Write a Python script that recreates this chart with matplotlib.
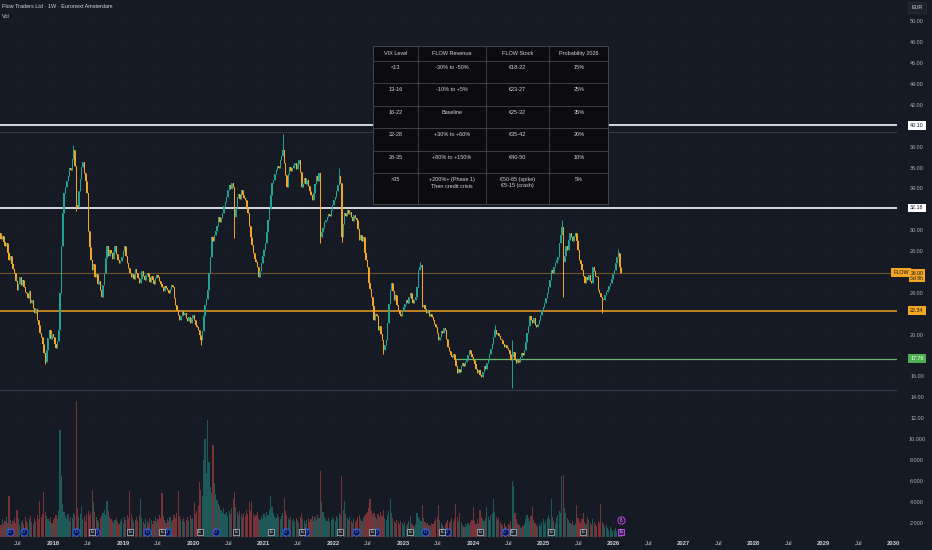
import matplotlib
matplotlib.use("Agg")
import matplotlib.pyplot as plt
import matplotlib.dates as mdates
from matplotlib import font_manager
from matplotlib.patches import Rectangle
from matplotlib.transforms import blended_transform_factory
import numpy as np
import pandas as pd

# ---- data -------------------------------------------------------------------
title_text = "Flow Traders Ltd · 1W · Euronext Amsterdam"
first_week = "2017-03-27"

closes = [
    29.8, 29.2, 29.5, 28.9, 28.5, 28.8, 27.9, 27.2, 27.6, 26.8,
    26.3, 26.0, 25.2, 24.3, 24.9, 25.6, 24.8, 25.3, 24.6, 24.1,
    24.0, 23.6, 24.2, 23.1, 23.4, 22.6, 22.1, 22.5, 21.5, 21.0,
    20.2, 19.8, 19.2, 18.3, 17.4, 18.6, 19.7, 20.5, 19.6, 20.1,
    19.8, 19.2, 18.8, 19.4, 20.5, 24.0, 28.5, 31.7, 33.6, 34.2,
    34.8, 35.2, 36.0, 35.8, 36.9, 37.7, 36.2, 32.5, 32.3, 33.8,
    35.0, 36.1, 36.6, 35.5, 34.8, 33.6, 30.0, 28.4, 27.2, 26.2,
    26.8, 25.6, 25.9, 24.9, 25.2, 24.3, 23.7, 24.8, 26.0, 27.4,
    28.5, 27.6, 28.2, 27.9, 27.3, 28.0, 28.5, 27.8, 27.2, 26.9,
    27.1, 27.5, 28.1, 28.5, 27.6, 26.9, 26.4, 26.0, 25.6, 25.9,
    25.4, 26.3, 26.0, 25.5, 25.0, 25.4, 26.1, 25.7, 25.3, 25.8,
    26.0, 25.6, 25.1, 25.7, 25.3, 24.9, 25.5, 25.8, 25.6, 25.2,
    24.9, 24.6, 24.2, 24.7, 24.5, 24.3, 24.0, 24.4, 24.8, 24.6,
    23.6, 22.9, 22.4, 21.9, 21.5, 21.8, 22.3, 21.9, 22.1, 21.6,
    21.4, 21.7, 21.2, 21.6, 21.9, 21.5, 21.0, 20.8, 20.5, 20.0,
    19.5, 20.4, 21.8, 22.9, 23.5, 24.3, 26.0, 27.5, 29.4, 29.0,
    29.6, 30.0, 30.5, 31.3, 30.8, 31.2, 31.7, 32.4, 32.8, 33.2,
    33.9, 34.4, 34.0, 34.6, 34.2, 31.3, 32.2, 33.2, 33.5, 33.0,
    33.9, 33.4, 33.1, 32.9, 32.2, 31.7, 30.5, 29.4, 28.6, 27.9,
    27.3, 27.0, 26.5, 25.6, 26.1, 26.9, 27.6, 28.2, 28.8, 29.9,
    31.0, 32.1, 33.4, 34.6, 34.9, 35.4, 35.8, 36.2, 36.0, 36.8,
    37.2, 37.7, 36.5, 35.3, 34.2, 35.4, 36.1, 35.7, 36.0, 36.3,
    36.5, 35.9, 36.4, 36.8, 35.6, 34.2, 34.6, 35.1, 34.5, 34.9,
    34.3, 33.8, 33.4, 32.9, 33.6, 34.5, 35.2, 34.8, 35.5, 29.4,
    29.9, 30.3, 30.8, 31.0, 31.3, 31.6, 31.4, 32.0, 32.5, 32.9,
    33.2, 33.8, 34.4, 35.2, 34.6, 29.4, 30.6, 31.7, 31.4, 32.0,
    31.6, 31.8, 31.3, 30.9, 31.5, 31.2, 31.0, 30.2, 29.1, 29.6,
    29.0, 29.4, 27.9, 27.2, 26.5, 25.0, 24.4, 23.7, 22.8, 21.5,
    22.0, 21.8, 20.5, 20.9, 20.1, 19.5, 18.6, 19.1, 19.5, 21.2,
    23.0, 24.3, 25.0, 24.2, 23.4, 23.8, 22.9, 22.4, 22.0, 21.8,
    22.3, 22.7, 23.0, 23.4, 23.1, 23.7, 24.0, 23.5, 23.1, 23.4,
    23.7, 24.6, 26.2, 26.5, 26.7, 22.7, 22.9, 22.5, 22.1, 22.4,
    21.8, 22.0, 21.7, 21.5, 21.1, 20.8, 20.2, 19.5, 19.8, 20.4,
    20.2, 20.7, 20.5, 19.6, 18.9, 18.5, 18.1, 17.9, 18.2, 17.6,
    17.0, 16.4, 16.8, 16.5, 17.0, 17.3, 17.0, 17.4, 17.6, 18.1,
    18.6, 18.2, 17.9, 17.6, 17.2, 16.8, 16.4, 16.7, 16.2, 16.0,
    16.5, 17.0, 16.8, 17.3, 17.6, 18.2, 18.7, 19.2, 19.8, 20.5,
    20.1, 20.2, 19.9, 19.6, 19.5, 19.2, 18.9, 19.1, 18.8, 18.6,
    18.2, 17.6, 17.9, 18.4, 17.6, 17.3, 17.6, 17.4, 17.9, 18.3,
    18.1, 18.6, 19.3, 20.2, 20.9, 21.8, 21.5, 21.2, 21.6, 21.0,
    20.8, 21.1, 21.5, 21.9, 22.4, 22.7, 23.1, 23.6, 24.0, 24.6,
    25.3, 26.2, 26.0, 26.5, 26.9, 27.2, 27.5, 28.8, 29.6, 30.4,
    27.0, 27.6, 28.5, 28.2, 29.1, 29.8, 29.4, 29.0, 29.5, 29.8,
    29.0, 28.2, 27.2, 26.8, 26.2, 25.7, 25.0, 25.6, 25.3, 25.8,
    25.2, 25.0, 26.5, 26.1, 25.7, 25.6, 24.3, 24.0, 23.7, 23.4,
    23.4, 23.8, 24.1, 24.3, 24.7, 25.0, 25.4, 25.9, 26.2, 26.9,
    27.5, 27.9, 26.5, 26.0,
]

# weekly volume, thousands
volumes = [
    2.1, 1.8, 2.4, 1.9, 2.2, 2.6, 2.0, 4.6, 2.3, 1.9,
    2.2, 2.5, 2.0, 3.3, 2.4, 1.8, 2.1, 2.3, 1.9, 2.6,
    2.2, 2.0, 2.4, 2.7, 2.1, 1.9, 2.5, 2.2, 2.8, 2.4,
    4.1, 2.6, 2.9, 5.0, 3.1, 2.7, 2.4, 2.2, 2.6, 2.0,
    2.3, 2.5, 2.8, 2.4, 3.2, 10.9, 6.5, 3.8, 3.1, 2.7,
    2.4, 2.9, 2.2, 2.6, 2.5, 3.0, 2.8, 13.7, 3.4, 2.6,
    2.9, 3.6, 2.4, 2.7, 2.2, 2.9, 3.2, 2.8, 3.0, 5.2,
    4.0, 3.1, 2.6, 2.3, 2.1, 2.5, 2.7, 3.0, 3.3, 2.8,
    4.1, 3.2, 2.6, 2.4, 2.2, 2.0, 2.3, 2.5, 2.1, 1.9,
    2.2, 2.4, 2.0, 2.6, 2.3, 2.8, 2.5, 5.1, 2.9, 2.4,
    2.1, 2.3, 2.6, 2.2, 2.8, 4.3, 2.5, 2.1, 1.9, 2.4,
    2.2, 2.0, 2.5, 2.3, 1.9, 2.2, 2.6, 2.1, 2.4, 2.8,
    2.5, 4.9, 2.7, 2.3, 2.0, 2.4, 2.2, 2.6, 2.1, 2.3,
    2.8, 2.5, 3.0, 5.1, 2.7, 2.4, 2.2, 2.5, 2.1, 2.3,
    2.6, 2.2, 2.8, 2.4, 2.5, 4.0, 2.9, 3.2, 3.6, 5.9,
    5.2, 4.6, 8.0, 10.1, 6.8, 11.9, 7.9, 5.5, 4.9, 9.5,
    5.8, 4.8, 4.2, 3.8, 3.6, 3.3, 3.0, 3.4, 2.9, 3.1,
    2.7, 3.2, 2.9, 3.4, 4.3, 5.0, 3.5, 3.1, 2.8, 3.2,
    2.9, 2.6, 3.0, 2.7, 3.3, 2.9, 4.0, 3.2, 4.1, 3.0,
    2.6, 2.8, 3.1, 2.5, 2.3, 2.7, 2.4, 2.9, 2.6, 3.1,
    2.8, 3.3, 4.6, 3.5, 3.0, 2.7, 2.5, 2.9, 2.6, 2.4,
    2.7, 3.0, 4.4, 3.2, 2.8, 2.5, 2.3, 2.6, 2.2, 2.4,
    2.1, 2.5, 2.3, 2.0, 2.6, 3.0, 2.4, 2.2, 1.9, 2.3,
    2.5, 2.1, 2.4, 2.7, 2.2, 2.6, 2.3, 2.8, 2.5, 7.0,
    4.0, 3.1, 2.6, 2.4, 2.2, 2.5, 2.1, 2.3, 2.6, 2.4,
    2.2, 2.7, 2.5, 3.0, 2.8, 6.5, 3.3, 4.1, 2.9, 2.5,
    2.3, 2.6, 2.2, 2.0, 2.4, 2.1, 2.3, 2.6, 2.8, 2.4,
    2.2, 2.5, 2.7, 2.9, 3.1, 3.4, 4.3, 3.2, 2.8, 3.0,
    2.6, 2.4, 2.9, 2.6, 3.1, 2.7, 3.3, 2.5, 2.3, 2.8,
    3.2, 4.3, 3.0, 2.5, 2.2, 2.0, 2.3, 2.1, 1.9, 2.2,
    2.0, 1.8, 2.1, 1.7, 1.9, 2.2, 2.7, 2.0, 1.8, 1.6,
    1.9, 3.0, 2.6, 2.4, 2.2, 3.7, 2.5, 2.1, 1.9, 2.0,
    1.8, 1.7, 2.0, 1.9, 2.2, 2.4, 2.6, 3.7, 2.3, 2.0,
    1.8, 1.6, 1.9, 2.1, 2.3, 2.0, 2.2, 2.5, 2.1, 2.4,
    3.8, 2.6, 2.2, 3.0, 2.1, 1.8, 1.6, 1.9, 1.7, 2.0,
    1.8, 2.1, 2.3, 3.5, 2.2, 1.9, 2.4, 2.0, 3.3, 2.6,
    2.4, 2.2, 2.5, 3.5, 2.6, 2.3, 2.8, 3.0, 4.3, 3.1,
    2.6, 2.3, 2.5, 2.1, 1.9, 1.8, 2.0, 1.7, 1.6, 1.9,
    1.8, 2.2, 6.0, 5.6, 3.0, 2.4, 2.0, 1.8, 1.6, 1.5,
    1.7, 1.9, 2.4, 2.8, 2.5, 2.2, 2.7, 3.5, 2.3, 2.0,
    1.8, 1.6, 1.9, 1.7, 2.1, 2.4, 1.9, 2.2, 2.5, 2.8,
    2.4, 4.3, 2.6, 2.2, 2.0, 2.5, 2.8, 3.2, 3.0, 6.5,
    6.6, 3.4, 3.0, 2.5, 2.3, 2.0, 1.9, 2.2, 1.8, 2.0,
    3.7, 2.5, 2.2, 2.0, 2.4, 3.0, 2.1, 1.9, 2.6, 2.3,
    2.0, 1.8, 2.4, 2.1, 1.9, 1.7, 2.2, 2.0, 3.8, 2.1,
    1.9, 1.6, 1.8, 1.5, 1.3, 1.6, 1.4, 1.2, 1.3, 1.5,
    1.2, 1.4, 1.1, 1.0,
]

# notable wick extremes (week index -> price)
wick_highs = {55: 38.2, 211: 39.3, 253: 36.0, 313: 27.0, 369: 21.0,
              382: 19.5, 419: 31.0, 461: 28.3}
wick_lows = {34: 17.2, 57: 31.9, 150: 19.1, 175: 29.3, 239: 28.8, 255: 28.9,
             286: 18.2, 382: 14.9, 420: 23.7, 449: 22.1}

white_levels = [40.10, 32.18]
orange_level = 22.34
green_level = 17.76
green_start = "2023-09-27"
last_price = 26.00
countdown = "5d 9h"

price_ticks = [50, 48, 46, 44, 42, 38, 36, 34, 30, 28, 24, 20, 16, 14, 12]
volume_ticks = [10, 8, 6, 4, 2]

dividend_dates = ["2017-05-19", "2017-07-31", "2018-04-30", "2018-08-14",
                  "2019-05-05", "2019-08-15", "2020-04-27", "2021-04-27",
                  "2021-08-11", "2022-04-30", "2022-08-11", "2023-04-23",
                  "2023-08-15", "2024-06-13"]
earnings_dates = ["2018-07-24", "2019-02-06", "2019-07-24", "2020-02-03",
                  "2020-08-11", "2021-02-10", "2021-07-20", "2022-02-06",
                  "2022-07-20", "2023-02-06", "2023-07-24", "2024-02-06",
                  "2024-07-24", "2025-02-10", "2025-07-27"]
upcoming_earnings = "2026-02-10"

table_header = ["VIX Level", "FLOW Revenue", "FLOW Stock", "Probability 2026"]
vix_levels = ["<13", "13-16", "16-22", "22-28", "28-35", ">35"]
flow_revenue = ["-30% to -50%", "-10% to +5%", "Baseline", "+30% to +60%",
                "+80% to +150%", "+200%+ (Phase 1)\nThen credit crisis"]
flow_stock = ["€18-22", "€23-27", "€25-32", "€35-42", "€40-50",
              "€50-65 (spike)\n€5-15 (crash)"]
probability = ["15%", "25%", "35%", "20%", "10%", "5%"]

# ---- style ------------------------------------------------------------------
BG = "#161a25"
TXT = "#b2b5be"
UP = "#22a595"
DOWN = "#f5a623"
GRID = "#191d28"

names = {f.name for f in font_manager.fontManager.ttflist}
main_font = "Liberation Sans Narrow" if "Liberation Sans Narrow" in names else "Liberation Sans"
plt.rcParams["font.family"] = [main_font, "DejaVu Sans"]

W, H = 932, 550
fig = plt.figure(figsize=(W / 100, H / 100), dpi=100, facecolor=BG)
ax = fig.add_axes([0, 13 / H, 897 / W, 537 / H])
ax.set_facecolor(BG)
for s in ax.spines.values():
    s.set_visible(False)

dates = pd.date_range(first_week, periods=len(closes), freq="7D")
x = mdates.date2num(dates)
c = np.array(closes)
o = np.r_[c[0], c[:-1]]
body_lo = np.minimum(o, c)
body_hi = np.maximum(o, c)
hi = body_hi.copy()
lo = body_lo.copy()
for k, v in wick_highs.items():
    hi[k] = v
for k, v in wick_lows.items():
    lo[k] = v
up = c >= o
cols = np.where(up, UP, DOWN)

# volume (same linear scale as price on this chart)
vol_cols = np.where(up, "#26a69a", "#ef5350")
ax.bar(x, volumes, width=6.0, color=vol_cols, alpha=0.45, linewidth=0, zorder=1)

# grid
xt_years = [pd.Timestamp(f"{y}-01-01") for y in range(2018, 2031)]
xt_jul = [pd.Timestamp(f"{y}-07-01") for y in range(2017, 2030)]
for t in xt_years + xt_jul:
    ax.axvline(mdates.date2num(t), color=GRID, lw=0.6, zorder=0)
for p in price_ticks:
    ax.axhline(p, color=GRID, lw=0.6, zorder=0)

# levels
for lv in white_levels:
    ax.axhline(lv, color="#e6e8ee", lw=1.3, zorder=2)
ax.axhline(39.5, color="#3c404b", lw=0.6, zorder=2)
ax.axhline(14.75, color="#343844", lw=0.9, zorder=2)
ax.axhline(last_price, color="#6e5328", lw=0.8, zorder=2)
ax.axhline(orange_level, color="#d08a22", lw=1.3, zorder=2)
ax.hlines(green_level, mdates.date2num(pd.Timestamp(green_start)),
          mdates.date2num(pd.Timestamp("2030-06-01")), color="#66bb6a", lw=0.9, zorder=2)

# candles
ax.vlines(x, lo, hi, colors=cols, lw=0.7, zorder=3)
ax.bar(x, np.maximum(body_hi - body_lo, 0.1), bottom=body_lo, width=5.6,
       color=cols, linewidth=0, zorder=3)

ax.set_xlim(mdates.date2num(pd.Timestamp("2017-03-29")),
            mdates.date2num(pd.Timestamp("2030-01-19")))
ax.set_ylim(0.67, 52.1)
ax.set_yticks([])

# x axis labels
ticks = xt_jul + xt_years
ax.set_xticks(mdates.date2num(ticks))
ax.set_xticklabels(["Jul"] * len(xt_jul) + [str(t.year) for t in xt_years])
ax.tick_params(axis="x", length=0, pad=3.2, labelsize=4.2, colors="#d1d4dc")
for lab in ax.get_xticklabels():
    if lab.get_text() != "Jul":
        lab.set_fontweight("bold")

# right price scale
yx = blended_transform_factory(ax.transAxes, ax.transData)
sx = 1 + 20 / 897
for p in price_ticks:
    ax.text(sx, p, f"{p:.2f}", transform=yx, ha="center", va="center",
            fontsize=3.9, color=TXT, clip_on=False)
for v in volume_ticks:
    ax.text(sx, v, f"{v}.000", transform=yx, ha="center", va="center",
            fontsize=3.9, color=TXT, clip_on=False)


def tag(y, text, fc, tc, xpos=sx):
    ax.text(xpos, y, text, transform=yx, ha="center", va="center", fontsize=3.9,
            color=tc, clip_on=False, zorder=6,
            bbox=dict(boxstyle="square,pad=0.35", fc=fc, ec="none"))


for lv in white_levels:
    tag(lv, f"{lv:.2f}", "#ffffff", "#131722")
tag(orange_level, f"{orange_level:.2f}", DOWN, "#131722")
tag(green_level, f"{green_level:.2f}", "#4caf50", "#ffffff")
ax.text(sx, last_price - 0.3, f"{last_price:.2f}\n{countdown}", transform=yx,
        ha="center", va="center", fontsize=3.7, color="#131722", clip_on=False,
        zorder=6, linespacing=0.95,
        bbox=dict(boxstyle="square,pad=0.3", fc=DOWN, ec="none"))
tag(last_price, "FLOW", DOWN, "#131722", xpos=1 + 4 / 897)

# event markers along the bottom
ex = blended_transform_factory(ax.transData, ax.transAxes)
ev_y = 5.3 / 537
for d in dividend_dates:
    xd = mdates.date2num(pd.Timestamp(d))
    ax.plot([xd], [ev_y], marker="o", ms=5.2, mfc="#0d1640", mec="#2962ff",
            mew=0.7, transform=ex, zorder=7, clip_on=False)
    ax.text(xd, ev_y, "D", transform=ex, ha="center", va="center",
            fontsize=3.3, color="#5b8cff", zorder=8)
for d in earnings_dates:
    xd = mdates.date2num(pd.Timestamp(d))
    ax.plot([xd], [ev_y], marker="s", ms=5.0, mfc="#1e222d", mec="#9598a1",
            mew=0.7, transform=ex, zorder=9, clip_on=False)
    ax.text(xd, ev_y, "E", transform=ex, ha="center", va="center",
            fontsize=3.3, color="#d1d4dc", zorder=10)
xu = mdates.date2num(pd.Timestamp(upcoming_earnings))
ax.plot([xu], [ev_y], marker="s", ms=5.0, mfc="#4a1f6e", mec="#b04be0",
        mew=0.7, transform=ex, zorder=9)
ax.text(xu, ev_y, "E", transform=ex, ha="center", va="center",
        fontsize=3.3, color="#e1bee7", zorder=10)
ax.plot([xu], [17 / 537], marker="o", ms=5.2, mfc="#2a1238", mec="#b04be0",
        mew=0.7, transform=ex, zorder=9)
ax.text(xu, 17 / 537, "6", transform=ex, ha="center", va="center",
        fontsize=3.3, color="#e1bee7", zorder=10)

# ---- overlay in pixel coordinates: header, currency box, table --------------
ov = fig.add_axes([0, 0, 1, 1], zorder=5)
ov.set_xlim(0, W)
ov.set_ylim(H, 0)
ov.axis("off")
ov.patch.set_alpha(0)

ov.text(2, 6.5, title_text, fontsize=4.0, color="#d1d4dc", va="center", ha="left")
ov.text(2, 16, "Vol", fontsize=4.0, color="#d1d4dc", va="center", ha="left")
ov.text(917, 7.5, "EUR", fontsize=3.9, color="#d1d4dc", ha="center", va="center",
        bbox=dict(boxstyle="square,pad=0.6", fc="#1e222d", ec="#2a2e39", lw=0.5))

col_edges = [372.7, 418.3, 486.0, 549.3, 608.3]
row_edges = [46.0, 61.0, 83.3, 105.7, 128.3, 151.0, 173.3, 204.0]
ov.add_patch(Rectangle((col_edges[0], row_edges[0]), col_edges[-1] - col_edges[0],
                       row_edges[-1] - row_edges[0], fc="#0c0c0e", ec="#434651",
                       lw=0.7, zorder=1))
for xe in col_edges[1:-1]:
    ov.plot([xe, xe], [row_edges[0], row_edges[-1]], color="#434651", lw=0.6, zorder=2)
for ye in row_edges[1:-1]:
    ov.plot([col_edges[0], col_edges[-1]], [ye, ye], color="#434651", lw=0.6, zorder=2)

centers = [(a + b) / 2 for a, b in zip(col_edges[:-1], col_edges[1:])]
for cx, h in zip(centers, table_header):
    ov.text(cx, 53.2, h, fontsize=4.0, color="#d1d4dc", ha="center", va="center", zorder=3)
rows = list(zip(vix_levels, flow_revenue, flow_stock, probability))
for r, row in enumerate(rows):
    top = row_edges[r + 1]
    for cx, cell in zip(centers, row):
        ov.text(cx, top + 3.8, cell, fontsize=4.0, color="#d1d4dc", ha="center",
                va="top", linespacing=1.35, zorder=3)

fig.savefig("out.png", dpi=100, facecolor=BG)
